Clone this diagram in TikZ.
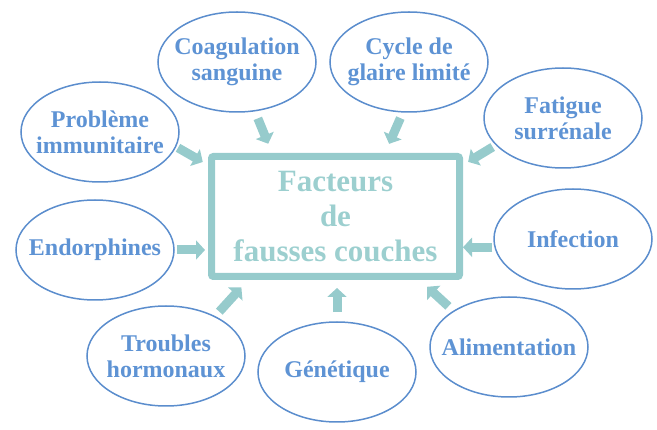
\documentclass[tikz,border=0pt]{standalone}
\usepackage{fontspec}
\setmainfont{Liberation Serif}
\usetikzlibrary{shapes.geometric,arrows.meta}

\definecolor{causeline}{RGB}{91,141,205}
\definecolor{causetext}{RGB}{94,147,212}
\definecolor{tealbox}{RGB}{150,203,204}
\definecolor{tealtext}{RGB}{156,207,207}

\begin{document}
\begin{tikzpicture}[x=1pt,y=-1pt,
    cause/.style={ellipse, draw=causeline, line width=1.5pt, inner sep=-14pt,
        minimum width=158pt, minimum height=100pt, text=causetext, align=center,
        font=\fontsize{24}{26}\selectfont\bfseries},
    fleche/.style={draw=tealbox, line width=9pt, -{Triangle[width=19pt,length=9pt]}}]
    \useasboundingbox (0,0) rectangle (657,430);

    \node[draw=tealbox, line width=7pt, rounded corners=2pt, minimum width=248pt,
        minimum height=120pt, text=tealtext, align=center,
        font=\fontsize{31}{35}\selectfont\bfseries] (facteurs) at (335.5,216.5)
        {Facteurs\\de\\fausses couches};

    \node[cause] (coag) at (237,62) {Coagulation\\sanguine};
    \node[cause] (cycle) at (409,62) {Cycle de\\glaire limité};
    \node[cause] (probleme) at (100,132) {Problème\\immunitaire};
    \node[cause] (fatigue) at (563,118) {Fatigue\\surrénale};
    \node[cause] (endorph) at (95,250) {Endorphines};
    \node[cause] (infection) at (573,239) {Infection};
    \node[cause] (troubles) at (166,356) {Troubles\\hormonaux};
    \node[cause] (genetique) at (337,372) {Génétique};
    \node[cause] (aliment) at (509,347) {Alimentation};

    \draw[fleche, shorten <=2pt, shorten >=6pt] (probleme.-11) -- (facteurs.158);
    \draw[fleche, shorten <=7.5pt, shorten >=10pt] (coag.-70) -- (facteurs.135);
    \draw[fleche, shorten <=6pt, shorten >=10pt] (cycle.-97) -- (facteurs.52);
    \draw[fleche, shorten <=3.5pt, shorten >=6pt] (fatigue.202) -- (facteurs.22);
    \draw[fleche, shorten <=2pt, shorten >=3pt] (endorph.east) -- (endorph.east -| facteurs.west);
    \draw[fleche, shorten <=2pt, shorten >=0pt] (infection.186) -- (infection.186 -| facteurs.east);
    \draw[fleche, shorten <=6pt, shorten >=10pt] (troubles.39) -- (facteurs.216);
    \draw[fleche, shorten <=9pt, shorten >=8pt] (genetique.north) -- (genetique.north |- facteurs.south);
    \draw[fleche, shorten <=6.5pt, shorten >=10pt] (aliment.147) -- (facteurs.-37);
\end{tikzpicture}
\end{document}
